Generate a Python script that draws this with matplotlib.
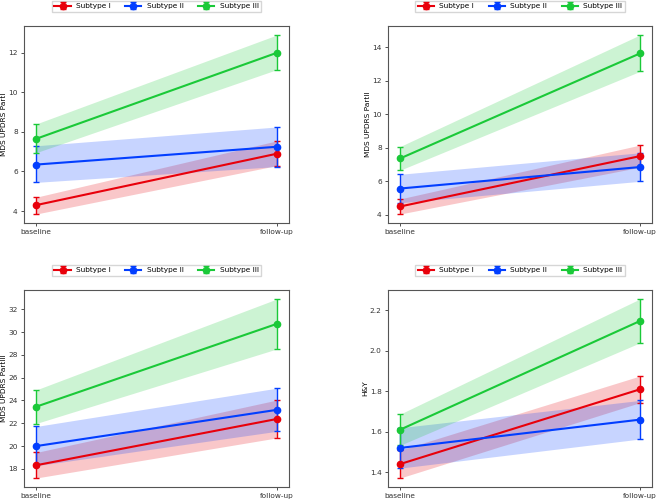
import matplotlib
matplotlib.use("Agg")
import matplotlib.pyplot as plt

# time points
timepoints = ["baseline", "follow-up"]
subtypes = ["Subtype I", "Subtype II", "Subtype III"]
colors = ["#e8000b", "#023eff", "#1ac938"]

# MDS UPDRS PartI: mean and lower/upper error bounds per subtype
p1_mean = [[4.3, 6.9], [6.35, 7.25], [7.65, 12.0]]
p1_low = [[3.85, 6.3], [5.45, 6.25], [6.95, 11.15]]
p1_high = [[4.7, 7.55], [7.3, 8.25], [8.4, 12.9]]

# MDS UPDRS PartII
p2_mean = [[4.5, 7.5], [5.57, 6.85], [7.36, 13.62]]
p2_low = [[4.05, 6.84], [4.72, 6.0], [6.66, 12.55]]
p2_high = [[4.95, 8.16], [6.42, 7.7], [8.07, 14.72]]

# MDS UPDRS PartIII
p3_mean = [[18.32, 22.38], [20.0, 23.18], [23.45, 30.72]]
p3_low = [[17.2, 20.72], [18.28, 21.3], [21.98, 28.52]]
p3_high = [[19.44, 24.04], [21.72, 25.08], [24.92, 32.9]]

# H&Y
hy_mean = [[1.44, 1.81], [1.52, 1.66], [1.61, 2.148]]
hy_low = [[1.371, 1.744], [1.42, 1.564], [1.533, 2.04]]
hy_high = [[1.509, 1.876], [1.62, 1.755], [1.687, 2.257]]

panels = [
    ("MDS UPDRS PartI", p1_mean, p1_low, p1_high),
    ("MDS UPDRS PartII", p2_mean, p2_low, p2_high),
    ("MDS UPDRS PartIII", p3_mean, p3_low, p3_high),
    ("H&Y", hy_mean, hy_low, hy_high),
]

fs = 5.3
fig = plt.figure(figsize=(6.57, 5.0), dpi=100)
rects = [
    [24 / 657, 1 - 223 / 500, 265 / 657, 197 / 500],
    [388 / 657, 1 - 223 / 500, 264 / 657, 197 / 500],
    [24 / 657, 1 - 487 / 500, 265 / 657, 197 / 500],
    [388 / 657, 1 - 487 / 500, 264 / 657, 197 / 500],
]

x = [0, 1]
for rect, (ylabel, means, lows, highs) in zip(rects, panels):
    ax = fig.add_axes(rect)
    for name, c, m, lo, hi in zip(subtypes, colors, means, lows, highs):
        yerr = [[m[i] - lo[i] for i in range(2)], [hi[i] - m[i] for i in range(2)]]
        ax.fill_between(x, lo, hi, color=c, alpha=0.22, linewidth=0)
        ax.errorbar(x, m, yerr=yerr, color=c, marker="o", markersize=4.5,
                    linewidth=1.5, elinewidth=1.0, capsize=2.5, capthick=1.0,
                    label=name)
    ax.set_xticks(x)
    ax.set_xticklabels(timepoints)
    ax.set_ylabel(ylabel, fontsize=fs, labelpad=1)
    ax.tick_params(labelsize=fs, length=2.5, width=0.6, pad=2, colors="#333333")
    for s in ax.spines.values():
        s.set_color("#555555")
        s.set_linewidth(0.8)
    ax.legend(loc="center", bbox_to_anchor=(0.5, 1.1), ncol=3, fontsize=fs,
              frameon=True, handlelength=2.2, handletextpad=0.7,
              columnspacing=2.0, borderpad=0.35, fancybox=False,
              edgecolor="#cccccc")

fig.savefig("out.png", dpi=100)
